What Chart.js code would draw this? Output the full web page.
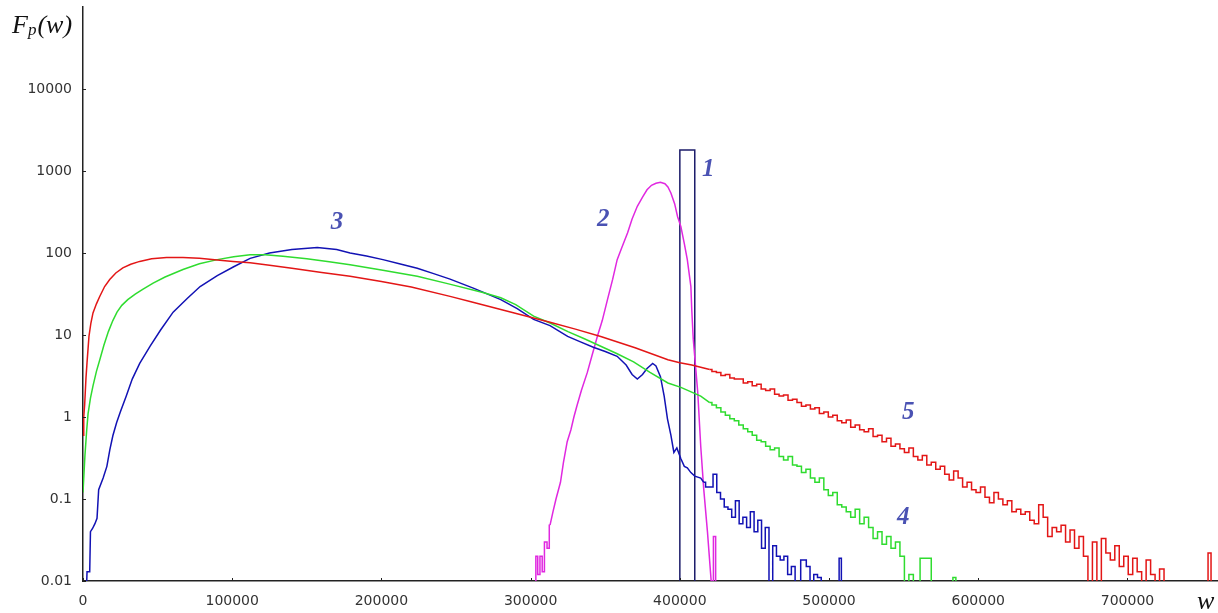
<!DOCTYPE html>
<html>
<head>
<meta charset="utf-8">
<script src="https://cdn.jsdelivr.net/npm/chart.js@4.4.0/dist/chart.umd.min.js"></script>
<style>
html,body{margin:0;padding:0;background:#fff;}
#wrap{width:1218px;height:613px;position:relative;}
</style>
</head>
<body>
<div id="wrap"><canvas id="c"></canvas></div>
<script>
// ---- tick values ----
const yTicks = [0.01, 0.1, 1, 10, 100, 1000, 10000];
const xTicks = [0, 100000, 200000, 300000, 400000, 500000, 600000, 700000];
const EMPTY = 0.005; // empty histogram bin (below axis minimum)

// ---- curve 5 (red) ----
const redMain = [[0,0.6],[500,1.0],[1100,1.4],[2000,3],[2700,4.6],[4000,9.6],[5300,14],[6700,18.6],[9000,24],[11200,29.5],[14500,39],[17900,47.5],[22000,57],[26700,66],[32000,73],[38000,79],[46000,85],[56000,88],[67000,88],[78000,86],[90000,82],[100500,79],[112000,76],[125000,71],[140000,65],[160000,58],[179000,52],[200000,45],[220000,38.5],[246000,29.6],[260000,25.5],[280000,20.5],[300000,16.5],[313000,14.3],[330000,11.8],[347000,9.6],[370000,7.0],[392000,5.0],[400000,4.6],[408000,4.3],[420000,3.8]];
const redTail = [[420000,3.8],[423000,3.6],[426000,3.5],[429000,3.2],[432000,3.3],[435000,3.0],[438000,2.9],[441000,2.9],[444000,2.6],[447000,2.7],[450000,2.4],[453000,2.5],[456000,2.2],[459000,2.1],[462000,2.2],[465000,1.9],[468000,1.8],[471000,1.85],[474000,1.6],[477000,1.65],[480000,1.5],[483000,1.35],[486000,1.4],[489000,1.25],[492000,1.3],[495000,1.1],[498000,1.15],[501000,1.0],[504000,1.05],[507000,0.9],[510000,0.85],[513000,0.92],[516000,0.75],[519000,0.8],[522000,0.7],[525000,0.66],[528000,0.72],[531000,0.58],[534000,0.6],[537000,0.5],[540000,0.55],[543000,0.44],[546000,0.47],[549000,0.41],[552000,0.37],[555000,0.42],[558000,0.33],[561000,0.3],[564000,0.34],[567000,0.26],[570000,0.28],[573000,0.23],[576000,0.25],[579000,0.2],[582000,0.17],[585000,0.22],[588000,0.18],[591000,0.14],[594000,0.16],[597000,0.13],[600000,0.12],[603000,0.14],[606000,0.105],[609000,0.09],[612000,0.12],[615000,0.1],[618000,0.085],[621000,0.095],[624000,0.07],[627000,0.075],[630000,0.065],[633000,0.07],[636000,0.055],[639000,0.05],[642000,0.085],[645000,0.06],[648000,0.035],[651000,0.045],[654000,0.04],[657000,0.048],[660000,0.03],[663000,0.042],[666000,0.025],[669000,0.035],[672000,0.02],[675000,EMPTY],[678000,0.03],[681000,EMPTY],[684000,0.033],[687000,0.022],[690000,0.018],[693000,0.027],[696000,0.015],[699000,0.02],[702000,0.012],[705000,0.019],[708000,0.013],[711000,EMPTY],[714000,0.018],[717000,0.012],[720000,EMPTY],[723000,0.014],[726000,EMPTY],[753000,EMPTY],[755000,0.022],[757000,EMPTY]];

// ---- curve 4 (green) ----
const greenMain = [[0,0.12],[1300,0.34],[2500,0.7],[3400,1.1],[5000,1.7],[6700,2.4],[9000,3.6],[11400,5.1],[14000,7.5],[17000,11],[20000,15],[22800,19],[26000,23],[30000,27],[35000,31.5],[40000,36],[47000,43],[55000,51],[67000,63],[78000,74],[90000,83],[101000,90],[112000,95],[122000,95],[134000,91],[150000,85],[165000,78],[179000,72],[200000,62],[224000,52],[245000,42],[268000,33],[280000,28.5],[290000,23.5],[302000,17],[313000,14],[325000,11],[336000,9],[347000,7.3],[358000,5.9],[369000,4.7],[380000,3.5],[392000,2.6],[400700,2.3],[414000,1.8],[420000,1.5]];
const greenTail = [[420000,1.5],[423000,1.4],[426000,1.3],[429000,1.15],[432000,1.05],[435000,0.95],[438000,0.9],[441000,0.8],[444000,0.72],[447000,0.66],[450000,0.6],[453000,0.52],[456000,0.5],[459000,0.44],[462000,0.4],[465000,0.42],[468000,0.33],[471000,0.3],[474000,0.33],[477000,0.26],[480000,0.25],[483000,0.21],[486000,0.23],[489000,0.18],[492000,0.16],[495000,0.18],[498000,0.13],[501000,0.11],[504000,0.12],[507000,0.085],[510000,0.08],[513000,0.07],[516000,0.06],[519000,0.075],[522000,0.05],[525000,0.06],[528000,0.045],[531000,0.033],[534000,0.04],[537000,0.028],[540000,0.035],[543000,0.025],[546000,0.03],[549000,0.02],[552000,EMPTY],[555000,0.012],[558000,EMPTY],[564000,0.019],[567000,0.019],[570000,EMPTY],[582000,EMPTY],[584000,0.011],[586000,EMPTY]];

// ---- curve 3 (blue) ----
const blueMain = [[2000,EMPTY],[2700,0.013],[4500,0.013],[5000,0.04],[6500,0.044],[8000,0.05],[9400,0.058],[10500,0.13],[13500,0.18],[16000,0.25],[18000,0.4],[20000,0.59],[22500,0.85],[25000,1.15],[29000,1.8],[33000,2.9],[38000,4.5],[45000,7.3],[52000,11.5],[60400,19],[70000,28],[78500,39],[90000,53],[101000,68],[112000,86],[125000,100],[140000,110],[157000,117],[170000,110],[179000,100],[190000,92],[201000,83],[212000,74],[224000,65],[235000,56],[246000,48],[262000,37],[280000,27],[291000,21],[302000,15.5],[313000,13],[324800,9.6],[333000,8.3],[342000,7.1],[350000,6.3],[358000,5.5],[364000,4.3],[368000,3.3],[371500,2.9],[375000,3.3],[378000,3.9],[381800,4.5],[384000,4.2],[387000,3.1],[389500,1.8],[391700,0.95],[394000,0.6],[396000,0.37],[398000,0.42],[400700,0.31],[403000,0.25],[405000,0.24],[407400,0.21],[410000,0.19],[414000,0.18],[416000,0.16]];
const blueTail = [[416000,0.16],[418500,0.14],[421000,0.14],[423500,0.2],[426000,0.12],[428500,0.1],[431000,0.08],[433500,0.075],[436000,0.06],[438500,0.095],[441000,0.05],[443500,0.06],[446000,0.045],[448500,0.07],[451000,0.04],[453500,0.055],[456000,0.025],[458500,0.045],[461000,EMPTY],[463500,0.027],[466000,0.02],[468500,0.018],[471000,0.02],[473500,0.012],[476000,0.015],[478500,EMPTY],[483500,0.018],[486000,0.015],[488500,EMPTY],[491000,0.012],[493500,0.011],[496000,EMPTY],[506000,EMPTY],[507500,0.019],[509000,EMPTY]];

// ---- curve 2 (magenta) ----
const magentaLeft = [[303000,EMPTY],[304000,0.02],[305500,0.012],[307000,0.02],[308500,0.013],[310000,0.03],[312000,0.025],[313000,0.048]];
const magentaMain = [[313000,0.048],[315000,0.07],[317000,0.1],[320000,0.16],[322000,0.28],[324500,0.5],[327000,0.7],[329000,1.0],[331000,1.36],[334000,2.1],[338000,3.5],[341000,5.5],[344700,9.6],[348000,15],[351500,27],[355000,48],[358000,83],[361000,115],[365000,177],[368000,260],[371500,371],[375000,480],[378000,590],[381000,670],[384000,710],[387000,730],[390000,700],[392000,640],[394000,540],[396500,400],[398500,277],[400700,210],[403000,130],[405000,83],[407400,39],[408000,20],[409000,8.9],[412000,2],[414000,0.44],[416000,0.133],[418500,0.04],[421000,0.01]];
const magentaSpike = [[421000,0.01],[422000,EMPTY],[423000,0.035],[425000,EMPTY]];

// ---- curve 1 (delta-like box) ----
const boxPts = [[400000,EMPTY],[400000,1800],[410000,1800],[410000,EMPTY]];

// ---- curve number labels: text, w, F ----
const curveLabels = [["1",419000,1050],["2",348600,257],["3",170200,236],["4",549800,0.0588],["5",553100,1.13]];

const toXY = a => a.map(p => ({x:p[0], y:p[1]}));
const RED='#e31616', GREEN='#2fdc2f', BLUE='#1212b4', MAG='#e028e0', BOX='#1c1c6a';

function ds(pts, color, stepped){
  return {data: toXY(pts), borderColor: color, borderWidth: 1.5, pointRadius: 0,
          stepped: stepped, tension: 0, fill: false};
}

const overlay = {
  id: 'overlay',
  afterDatasetsDraw(chart){
    const {ctx, chartArea: ca, scales: {x, y}} = chart;
    ctx.save();
    ctx.strokeStyle = '#222'; ctx.lineWidth = 1;
    yTicks.forEach(v => { const py = Math.round(y.getPixelForValue(v)) + 0.5;
      ctx.beginPath(); ctx.moveTo(ca.left, py); ctx.lineTo(ca.left + 3, py); ctx.stroke(); });
    xTicks.forEach(v => { const px = Math.round(x.getPixelForValue(v)) + 0.5;
      ctx.beginPath(); ctx.moveTo(px, ca.bottom); ctx.lineTo(px, ca.bottom - 3); ctx.stroke(); });
    // curve numbers
    ctx.fillStyle = '#4a52b3';
    ctx.font = 'italic bold 25px "Liberation Serif"';
    ctx.textAlign = 'center'; ctx.textBaseline = 'middle';
    curveLabels.forEach(([t, w, f]) => ctx.fillText(t, x.getPixelForValue(w), y.getPixelForValue(f)));
    // axis titles
    ctx.fillStyle = '#111'; ctx.textAlign = 'left'; ctx.textBaseline = 'alphabetic';
    ctx.font = 'italic 26px "Liberation Serif"';
    ctx.fillText('F', 12, 33);
    const fw = ctx.measureText('F').width;
    ctx.font = 'italic 17px "Liberation Serif"';
    ctx.fillText('p', 12 + fw, 35);
    const pw = ctx.measureText('p').width;
    ctx.font = 'italic 26px "Liberation Serif"';
    ctx.fillText('(w)', 12 + fw + pw + 1, 33);
    ctx.fillText('w', 1197, 609);
    ctx.restore();
  }
};

new Chart(document.getElementById('c'), {
  type: 'line',
  data: { datasets: [
    ds(redMain, RED, false), ds(redTail, RED, 'middle'),
    ds(greenMain, GREEN, false), ds(greenTail, GREEN, 'middle'),
    ds(blueMain, BLUE, false), ds(blueTail, BLUE, 'middle'),
    ds(magentaLeft, MAG, 'middle'), ds(magentaMain, MAG, false), ds(magentaSpike, MAG, 'middle'),
    ds(boxPts, BOX, false)
  ]},
  options: {
    responsive: true, maintainAspectRatio: false, animation: false,
    layout: { padding: { top: 7, right: 1, left: 0, bottom: 0 } },
    plugins: { legend: { display: false }, tooltip: { enabled: false } },
    events: [],
    scales: {
      x: {
        type: 'linear', min: 0, max: 760000,
        grid: { display: false, drawTicks: false },
        border: { display: true, color: '#222', width: 1.5 },
        afterBuildTicks: s => { s.ticks = xTicks.map(v => ({value: v})); },
        afterFit: s => { s.height = 32; s.paddingRight = 0; },
        ticks: { padding: 12, maxRotation: 0, autoSkip: false, color: '#333',
                 font: { family: '"DejaVu Sans"', size: 14 },
                 callback: v => String(v) }
      },
      y: {
        type: 'logarithmic', min: 0.01, max: 100000,
        grid: { display: false, drawTicks: false },
        border: { display: true, color: '#222', width: 1.5 },
        afterBuildTicks: s => { s.ticks = yTicks.map(v => ({value: v})); },
        afterFit: s => { s.width = 83; s.paddingTop = 0; s.paddingBottom = 0; },
        ticks: { padding: 11, autoSkip: false, color: '#333',
                 font: { family: '"DejaVu Sans"', size: 14 },
                 callback: v => String(v) }
      }
    }
  },
  plugins: [overlay]
});
</script>
</body>
</html>
